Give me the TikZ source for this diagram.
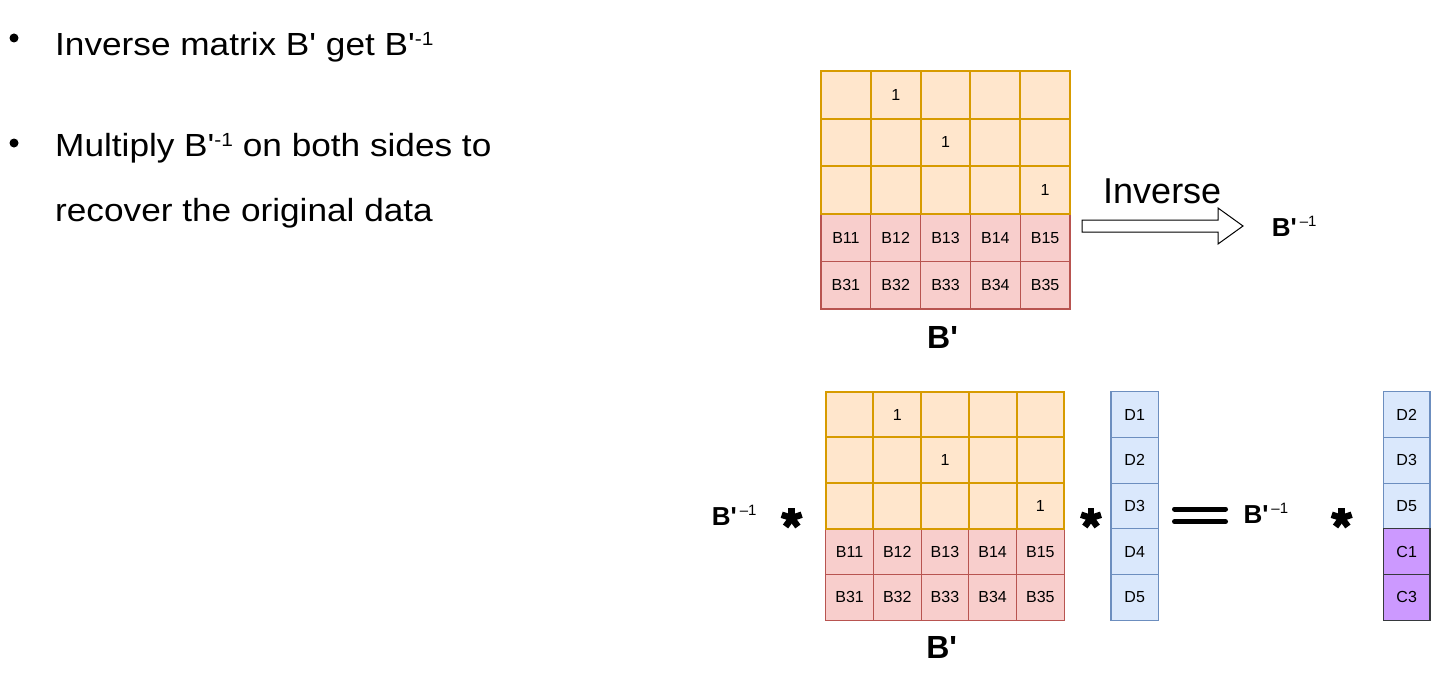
\documentclass[tikz,border=0pt]{standalone}
\usepackage{fontspec}
\setmainfont{Liberation Sans}[Ligatures=TeXOff]
\newfontfamily\bulletfont{Liberation Sans}[Ligatures=TeXOff, FakeStretch=1.1]
\definecolor{orangeF}{HTML}{FFE6CC}
\definecolor{orangeD}{HTML}{D79B00}
\definecolor{redF}{HTML}{F8CECC}
\definecolor{redD}{HTML}{B85450}
\definecolor{blueF}{HTML}{DAE8FC}
\definecolor{blueD}{HTML}{6C8EBF}
\definecolor{purpF}{HTML}{CC99FF}
\definecolor{purpD}{HTML}{36393D}
\tikzset{
  cellbox/.style={draw, inner sep=0pt, outer sep=0pt, font=\fontsize{16}{16}\selectfont},
  topcell/.style={cellbox, minimum width=49.8pt, minimum height=47.6pt},
  botcell/.style={cellbox, minimum width=47.7pt, minimum height=45.7pt},
  orangecell/.style={fill=orangeF, draw=orangeD, line width=2pt},
  redcell/.style={fill=redF, draw=redD, line width=1.2pt},
  bluecell/.style={fill=blueF, draw=blueD, line width=1.2pt},
  purpcell/.style={fill=purpF, draw=purpD, line width=1.2pt},
  bullettext/.style={anchor=base west, inner sep=0pt, font=\bulletfont\fontsize{32}{32}\selectfont},
  biglabel/.style={anchor=base, inner sep=0pt, font=\fontsize{32}{32}\selectfont\bfseries},
  invlabel/.style={anchor=base west, inner sep=0pt, font=\fontsize{26}{26}\selectfont\bfseries},
  astx/.pic={\foreach \a in {90,162,234,306,18}{\draw[line width=6.5pt, line cap=butt] (0,0) -- (\a:10.5pt);}}
}
\newcommand{\binv}{B'\hspace{3pt}\raisebox{10pt}{\fontsize{15}{15}\selectfont\mdseries –1}}
\newcommand{\supm}{\raisebox{10pt}{\fontsize{19}{19}\selectfont -1}}
\begin{document}
\begin{tikzpicture}[x=1pt,y=-1pt]
\useasboundingbox (0,0) rectangle (1450,674);
\fill[white] (0,0) rectangle (1450,674);

% bullets
\fill (14,38) circle (4.5pt);
\fill (14,143) circle (4.5pt);
\node[bullettext] (l1) at (55,56) {Inverse matrix B' get B'\supm};
\node[bullettext] (l2) at (55,157) {Multiply B'\supm{} on both sides to};
\node[bullettext] (l3) at (55,221.5) {recover the original data};

% top matrix
\foreach \r in {3,4}{
  \foreach \c in {0,...,4}{
    \pgfmathtruncatemacro\rr{\r==3 ? 1 : 3}
    \pgfmathtruncatemacro\cc{\c+1}
    \node[topcell, redcell] (t\r\c) at ({821+49.8*(\c+0.5)},{71+47.6*(\r+0.5)}) {B\rr\cc};
  }
}
\foreach \r/\oc in {0/1,1/2,2/4}{
  \foreach \c in {0,...,4}{
    \node[topcell, orangecell] (t\r\c) at ({821+49.8*(\c+0.5)},{71+47.6*(\r+0.5)}) {\ifnum\c=\oc\relax 1\fi};
  }
}
\node[biglabel] (tB) at (942.5,348.3) {B'};

% inverse arrow
\draw[fill=white, line width=1pt] (1082,220) -- (1218,220) -- (1218,208) -- (1243,226) -- (1218,244) -- (1218,232) -- (1082,232) -- cycle;
\node[anchor=base west, inner sep=0pt, font=\fontsize{36}{36}\selectfont] (inv) at (1103,203) {Inverse};
\node[invlabel] (tinv) at (1271.7,236) {\binv};

% bottom matrix
\foreach \r in {3,4}{
  \foreach \c in {0,...,4}{
    \pgfmathtruncatemacro\rr{\r==3 ? 1 : 3}
    \pgfmathtruncatemacro\cc{\c+1}
    \node[botcell, redcell] (b\r\c) at ({825.7+47.7*(\c+0.5)},{391.7+45.7*(\r+0.5)}) {B\rr\cc};
  }
}
\foreach \r/\oc in {0/1,1/2,2/4}{
  \foreach \c in {0,...,4}{
    \node[botcell, orangecell] (b\r\c) at ({825.7+47.7*(\c+0.5)},{391.7+45.7*(\r+0.5)}) {\ifnum\c=\oc\relax 1\fi};
  }
}
\node[biglabel] (bB) at (941.7,658.3) {B'};

% D column
\foreach \r in {0,...,4}{
  \pgfmathtruncatemacro\dd{\r+1}
  \node[botcell, bluecell, minimum width=47.3pt] (d\r) at (1134.7,{391.7+45.7*(\r+0.5)}) {D\dd};
}

% right column
\foreach \r/\t in {0/D2,1/D3,2/D5}{
  \node[botcell, bluecell, minimum width=46.7pt] (rc\r) at (1406.7,{391.7+45.7*(\r+0.5)}) {\t};
}
\foreach \r/\t in {3/C1,4/C3}{
  \node[botcell, purpcell, minimum width=46.7pt] (rc\r) at (1406.7,{391.7+45.7*(\r+0.5)}) {\t};
}

% operators
\node[invlabel] (linv) at (711.7,525.5) {\binv};
\pic (s1) at (791.7,518) {astx};
\pic (s2) at (1091,518) {astx};
\draw[line width=5pt, line cap=round] (1174.5,509) -- (1225.5,509);
\draw[line width=5pt, line cap=round] (1174.5,521.7) -- (1225.5,521.7);
\node[invlabel] (rinv) at (1243.3,523.5) {\binv};
\pic (s3) at (1341.7,518) {astx};
\end{tikzpicture}
\end{document}
